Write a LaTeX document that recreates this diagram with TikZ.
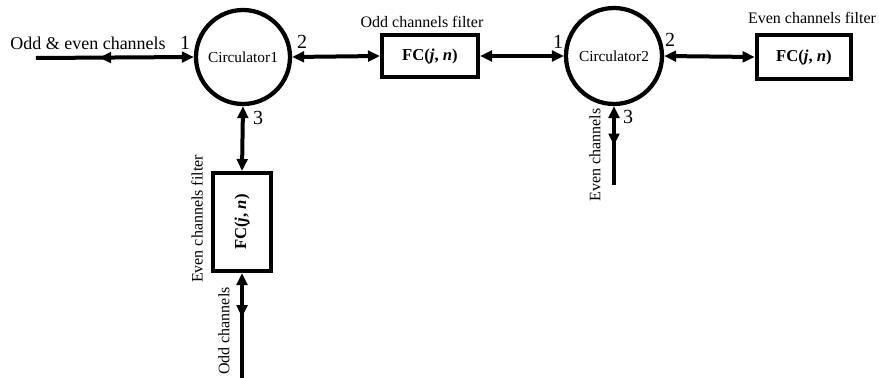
\documentclass[tikz,border=0pt]{standalone}
\usepackage{fontspec}
\setmainfont{Liberation Serif}
\usetikzlibrary{arrows.meta,decorations.markings}

\tikzset{
    every picture/.style={line width=3pt},
    tip/.tip={Triangle[length=9pt,width=8pt]},
    circulator/.style={draw,circle,line width=3.2pt,inner sep=0pt,font=\fontsize{11.5}{13}\selectfont},
    filterbox/.style={draw,rectangle,line width=3pt,inner sep=0pt,font=\fontsize{12.5}{14}\selectfont\bfseries},
    txt/.style={inner sep=0pt,font=\fontsize{12}{14}\selectfont},
    portnum/.style={inner sep=0pt,font=\fontsize{15}{17}\selectfont},
    midtip/.style={postaction={decorate},decoration={markings,mark=at position #1 with {\arrow{tip}}}}
}

\begin{document}
\begin{tikzpicture}[x=0.75pt,y=0.75pt,yscale=-1,xscale=1]
        \useasboundingbox (0,0) rectangle (879,378);

        % circulators
        \node[circulator,minimum size=70.5pt] (circ1) at (243,57) {Circulator1};
        \node[circulator,minimum size=72pt] (circ2) at (614,56) {Circulator2};

        % filters
        \node[filterbox,minimum width=72pt,minimum height=31.5pt] (filt1) at (430,56) {FC(\textit{j}, \textit{n})};
        \node[filterbox,minimum width=71pt,minimum height=33pt] (filt2) at (804,57) {FC(\textit{j}, \textit{n})};
        \node[filterbox,minimum width=43.5pt,minimum height=73.5pt] (filt3) at (242,222) {\rotatebox{90}{FC(\textit{j}, \textit{n})}};

        % loose ends
        \coordinate (inL) at (36,58);
        \coordinate (out3) at (242,378);
        \coordinate (out2) at (614,185);

        % connectors
        \draw[{tip}-, midtip=0.6] (circ1.west) -- (inL);
        \draw[{tip}-{tip}] (circ1.east) -- (filt1.west);
        \draw[{tip}-{tip}] (filt1.east) -- (circ2.west);
        \draw[{tip}-{tip}] (circ2.east) -- (filt2.west);
        \draw[{tip}-{tip}] (circ1.south) -- (filt3.north);
        \draw[{tip}-, midtip=0.42] (filt3.south) -- (out3);
        \draw[{tip}-, midtip=0.5] (circ2.south) -- (out2);

        % port numbers
        \node[portnum] (p11) at (185,43) {1};
        \node[portnum] (p12) at (302,42) {2};
        \node[portnum] (p13) at (258,118) {3};
        \node[portnum] (p21) at (558,42) {1};
        \node[portnum] (p22) at (670,40) {2};
        \node[portnum] (p23) at (628,117) {3};

        % text
        \node[txt,font=\fontsize{13.5}{15}\selectfont] (lblin) at (88,43) {Odd \& even channels};
        \node[txt] (lblf1) at (422,22) {Odd channels filter};
        \node[txt] (lblf2) at (812,18) {Even channels filter};
        \node[txt,rotate=90] (lblf3) at (197,219) {Even channels filter};
        \node[txt,rotate=90] (lblodd) at (224,331) {Odd channels};
        \node[txt,rotate=90] (lbleven) at (595,155) {Even channels};

\end{tikzpicture}
\end{document}
